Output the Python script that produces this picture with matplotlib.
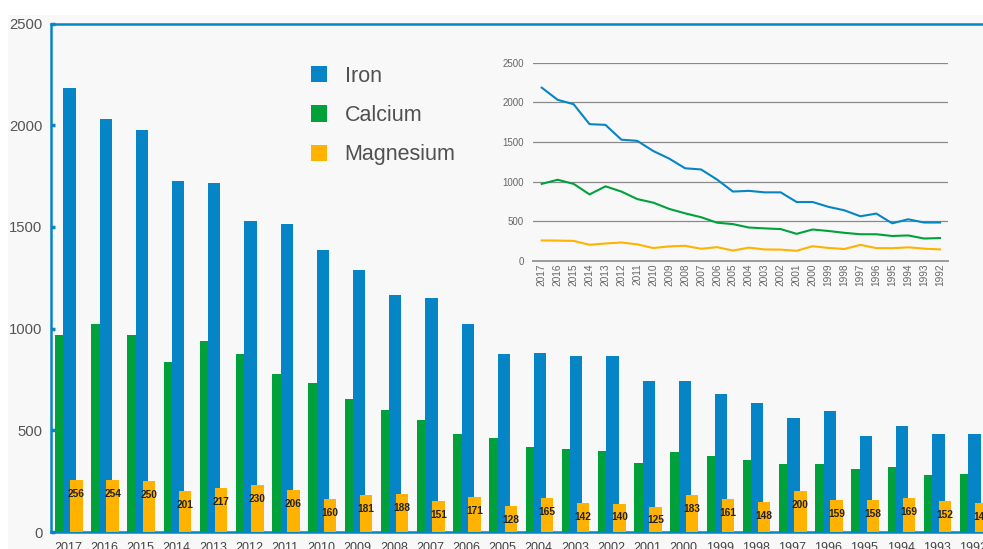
import matplotlib
matplotlib.use("Agg")
import matplotlib.pyplot as plt
from matplotlib.patches import Rectangle
import numpy as np

# values
years = [str(y) for y in range(2017, 1991, -1)]
iron = [2185, 2031, 1976, 1724, 1715, 1528, 1513, 1385, 1289, 1167, 1152, 1025, 873, 882,
        863, 863, 741, 741, 680, 636, 561, 595, 472, 523, 482, 482]
calcium = [970, 1022, 970, 837, 939, 873, 778, 733, 654, 598, 549, 480, 462, 419,
           408, 399, 339, 394, 375, 352, 334, 334, 312, 319, 280, 286]
magnesium = [256, 254, 250, 201, 217, 230, 206, 160, 181, 188, 151, 171, 128, 165,
             142, 140, 125, 183, 161, 148, 200, 159, 158, 169, 152, 143]
series_names = ["Iron", "Calcium", "Magnesium"]

BLUE = "#0685c6"
GREEN = "#00a13b"
ORANGE = "#ffb300"
BG = "#f8f8f8"

W, H = 983, 549
fig = plt.figure(figsize=(W / 100, H / 100), dpi=100, facecolor="white")
plt.rcParams["font.family"] = ["Liberation Sans", "DejaVu Sans"]

# light grey panel behind everything
panel = Rectangle((8 / W, 0), 1, 1 - 15 / H, transform=fig.transFigure,
                  facecolor=BG, edgecolor="none", zorder=-10)
fig.add_artist(panel)

ax = fig.add_axes([50.7 / W, (H - 532) / H, 940.5 / W, 508.5 / H])
ax.set_facecolor(BG)
x = np.arange(len(years))
bw = 0.34
b_ca = ax.bar(x - 0.36, calcium, bw, align="edge", color=GREEN, zorder=2)
b_fe = ax.bar(x - 0.13, iron, bw, align="edge", color=BLUE, zorder=3)
b_mg = ax.bar(x + 0.06, magnesium, bw, align="edge", color=ORANGE, zorder=4)

for rect, v in zip(b_mg, magnesium):
    ax.annotate(str(v), (rect.get_x() + rect.get_width() / 2, v),
                xytext=(0, -10), textcoords="offset points", ha="center", va="center",
                fontsize=7.3, fontweight="bold", color="#222222",
                family=["Liberation Sans Narrow", "Liberation Sans"], zorder=5)

ax.set_xlim(-0.48, 25.5)
ax.set_ylim(0, 2500)
ax.set_yticks([0, 500, 1000, 1500, 2000, 2500])
ax.set_xticks(x)
ax.set_xticklabels(years)
ax.tick_params(axis="y", direction="in", length=3, width=2.5, color=BLUE,
               labelsize=10.7, labelcolor="#555555", pad=6)
ax.tick_params(axis="x", length=0, labelsize=9, labelcolor="#444444", pad=7)
for side in ["left", "top", "bottom"]:
    ax.spines[side].set_color(BLUE)
    ax.spines[side].set_linewidth(1.8)
ax.spines["right"].set_visible(False)

leg = ax.legend([b_fe, b_ca, b_mg], series_names, loc="upper left",
                bbox_to_anchor=(302 / W, 1 - 57 / H), bbox_transform=fig.transFigure,
                frameon=False, fontsize=15.5, handlelength=0.78, handleheight=0.78,
                handletextpad=0.8, labelspacing=0.85, borderaxespad=0)
for t in leg.get_texts():
    t.set_color("#505050")

# inset line chart with the same series
ins = fig.add_axes([533.3 / W, (H - 260.7) / H, 415 / W, 198 / H])
ins.set_facecolor("none")
ins.plot(x, iron, color=BLUE, lw=1.5, zorder=3)
ins.plot(x, calcium, color=GREEN, lw=1.5, zorder=3)
ins.plot(x, magnesium, color=ORANGE, lw=1.5, zorder=3)
ins.set_xlim(-0.53, 25.52)
ins.set_ylim(0, 2500)
ins.set_yticks([0, 500, 1000, 1500, 2000, 2500])
ins.set_xticks(x)
ins.set_xticklabels(years, rotation=90)
ins.grid(axis="y", color="#8a8a8a", lw=0.9)
ins.tick_params(axis="both", length=0, labelcolor="#666666")
ins.tick_params(axis="y", pad=7, labelsize=7)
ins.tick_params(axis="x", pad=2, labelsize=7.3)
for side in ["left", "top", "right"]:
    ins.spines[side].set_visible(False)
ins.spines["bottom"].set_color("#9a9a9a")
ins.spines["bottom"].set_linewidth(1.4)

fig.savefig("out.png", dpi=100, facecolor="white")
